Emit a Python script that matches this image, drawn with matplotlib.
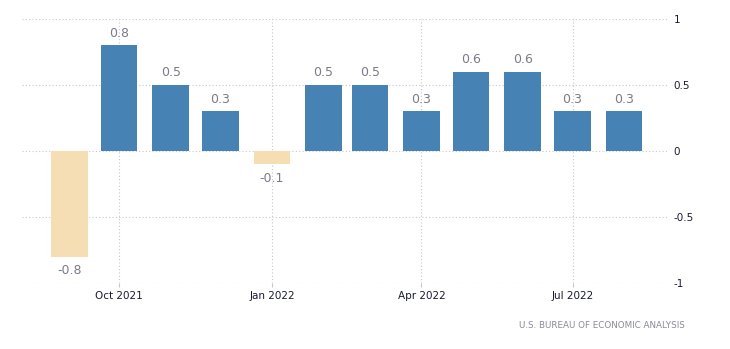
import matplotlib
matplotlib.use("Agg")
import matplotlib.pyplot as plt
import matplotlib.dates as mdates
from datetime import datetime, timedelta

# monthly change, Sep 2021 .. Aug 2022
months = ["2021-09", "2021-10", "2021-11", "2021-12", "2022-01", "2022-02",
          "2022-03", "2022-04", "2022-05", "2022-06", "2022-07", "2022-08"]
values = [-0.8, 0.8, 0.5, 0.3, -0.1, 0.5, 0.5, 0.3, 0.6, 0.6, 0.3, 0.3]
tick_months = ["2021-10", "2022-01", "2022-04", "2022-07"]
tick_labels = ["Oct 2021", "Jan 2022", "Apr 2022", "Jul 2022"]
y_ticks = [1, 0.5, 0, -0.5, -1]
y_labels = ["1", "0.5", "0", "-0.5", "-1"]
source = "U.S. BUREAU OF ECONOMIC ANALYSIS"

POS = "#4682b4"
NEG = "#f5deb3"
LABEL = "#7a7a8a"
GRID = "#c8c8c8"

dates = [datetime.strptime(m, "%Y-%m") for m in months]
x = mdates.date2num(dates)

fig = plt.figure(figsize=(7.3, 3.49), dpi=100)
W, H = 730, 349
ax = fig.add_axes([22 / W, 1 - 283 / H, (668 - 22) / W, (283 - 19) / H])

colors = [POS if v >= 0 else NEG for v in values]
ax.bar(x, values, width=22, color=colors, align="center", zorder=2)

# value labels above positive bars, below negative ones
for xi, v in zip(x, values):
    if v >= 0:
        ax.annotate(f"{v:g}", (xi, v), xytext=(0, 4), textcoords="offset points",
                    ha="center", va="bottom", fontsize=9, color=LABEL)
    else:
        ax.annotate(f"{v:g}", (xi, v), xytext=(0, -5.5), textcoords="offset points",
                    ha="center", va="top", fontsize=9, color=LABEL)

ax.set_xlim(mdates.date2num(datetime(2021, 9, 1) - timedelta(days=28.5)),
            mdates.date2num(datetime(2022, 8, 1) + timedelta(days=26.5)))
ax.set_ylim(-1, 1)

ax.set_xticks(mdates.date2num([datetime.strptime(m, "%Y-%m") for m in tick_months]))
ax.set_xticklabels(tick_labels)
ax.set_yticks(y_ticks)
ax.set_yticklabels(y_labels)
ax.yaxis.tick_right()

ax.tick_params(axis="x", length=3, color=GRID, labelsize=7.5, labelcolor="#1a1a33", pad=3)
ax.tick_params(axis="y", length=0, labelsize=7.5, labelcolor="#1a1a33", pad=4)

for s in ax.spines.values():
    s.set_visible(False)
ax.grid(True, linestyle=(0, (1, 2)), color=GRID, linewidth=0.8, zorder=0)
ax.set_axisbelow(True)

fig.text(685 / W, 1 - 325 / H, source, ha="right", va="center",
         fontsize=6.3, color="#8a8a9a")

fig.savefig("out.png", dpi=100, facecolor="white")
